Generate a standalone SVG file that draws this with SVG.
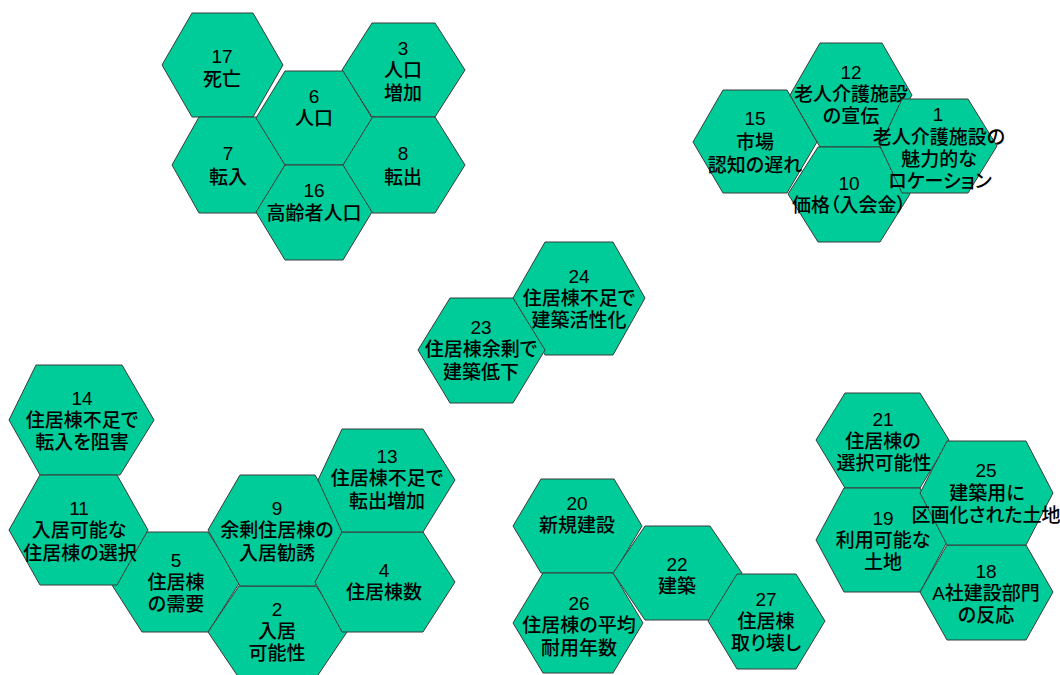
<svg xmlns="http://www.w3.org/2000/svg" width="1060" height="675" viewBox="0 0 1060 675">
<style>
.hex{fill:#00CC99;stroke:#3a3a3a;stroke-width:1}
.t{font-family:"Liberation Sans","Noto Sans CJK JP",sans-serif;font-size:19px;font-weight:500;fill:#000;text-anchor:middle;font-feature-settings:"palt"}
</style>
<rect width="1060" height="675" fill="#fff"/>
<g id="connectors"></g>
<!-- group 1 -->
<g id="n17"><polygon class="hex" points="192,13 253,13 283,65 253,117 192,117 162,65"/>
<text class="t"><tspan x="222" y="63">17</tspan><tspan x="222" y="86">死亡</tspan></text></g>
<g id="n3"><polygon class="hex" points="372,23 435,23 465,70 435,117 372,117 342,70"/>
<text class="t"><tspan x="403" y="55">3</tspan><tspan x="403" y="77">人口</tspan><tspan x="403" y="100">増加</tspan></text></g>
<g id="n7"><polygon class="hex" points="199,117 258,117 285,165 258,213 199,213 172,165"/>
<text class="t"><tspan x="228" y="160">7</tspan><tspan x="228" y="184">転入</tspan></text></g>
<g id="n8"><polygon class="hex" points="372,117 435,117 465,165 435,213 372,213 342,165"/>
<text class="t"><tspan x="403" y="160">8</tspan><tspan x="403" y="184">転出</tspan></text></g>
<g id="n6"><polygon class="hex" points="285,71 343,71 372,118 343,165 285,165 256,118"/>
<text class="t"><tspan x="314" y="103">6</tspan><tspan x="314" y="125">人口</tspan></text></g>
<g id="n16"><polygon class="hex" points="285,165 343,165 372,212 343,260 285,260 256,212"/>
<text class="t"><tspan x="314" y="197">16</tspan><tspan x="314" y="220">高齢者人口</tspan></text></g>
<!-- group 2 -->
<g id="n15"><polygon class="hex" points="723,90 787,90 817,142 787,193 723,193 693,142"/>
<text class="t"><tspan x="755" y="125">15</tspan><tspan x="755" y="149">市場</tspan><tspan x="755" y="172">認知の遅れ</tspan></text></g>
<g id="n12"><polygon class="hex" points="820,43 882,43 912,95 882,147 820,147 790,95"/>
<text class="t"><tspan x="851" y="79">12</tspan><tspan x="851" y="101">老人介護施設</tspan><tspan x="851" y="123">の宣伝</tspan></text></g>
<g id="n10"><polygon class="hex" points="818,147 880,147 910,194 880,242 818,242 788,194"/>
<text class="t"><tspan x="849" y="190">10</tspan><tspan x="849" y="212">価格（入会金）</tspan></text></g>
<g id="n1"><polygon class="hex" points="902,99 968,99 997,146 968,193 902,193 880,146"/>
<text class="t"><tspan x="938" y="121">1</tspan><tspan x="939" y="144">老人介護施設の</tspan><tspan x="939" y="166">魅力的な</tspan><tspan x="940" y="188">ロケーション</tspan></text></g>
<!-- group 3 -->
<g id="n24"><polygon class="hex" points="545,242 613,242 645,298 613,355 545,355 513,298"/>
<text class="t"><tspan x="579" y="283">24</tspan><tspan x="579" y="305">住居棟不足で</tspan><tspan x="579" y="327">建築活性化</tspan></text></g>
<g id="n23"><polygon class="hex" points="450,298 513,298 545,350 513,403 450,403 418,350"/>
<text class="t"><tspan x="481" y="334">23</tspan><tspan x="481" y="356">住居棟余剰で</tspan><tspan x="481" y="379">建築低下</tspan></text></g>
<!-- group 4 -->
<g id="n14"><polygon class="hex" points="36,365 122,365 154,420 120,475 40,475 9,420"/>
<text class="t"><tspan x="82" y="405">14</tspan><tspan x="82" y="427">住居棟不足で</tspan><tspan x="82" y="449">転入を阻害</tspan></text></g>
<g id="n5"><polygon class="hex" points="142,532 208,532 240,582 208,632 142,632 110,582"/>
<text class="t"><tspan x="176" y="567">5</tspan><tspan x="176" y="589">住居棟</tspan><tspan x="176" y="611">の需要</tspan></text></g>
<g id="n11"><polygon class="hex" points="40,475 117,475 148,530 117,585 40,585 9,530"/>
<text class="t"><tspan x="79" y="515">11</tspan><tspan x="79" y="537">入居可能な</tspan><tspan x="80" y="560">住居棟の選択</tspan></text></g>
<g id="n2"><polygon class="hex" points="239,586 316,586 347,632 316,678 239,678 208,632"/>
<text class="t"><tspan x="277" y="616">2</tspan><tspan x="277" y="638">入居</tspan><tspan x="277" y="660">可能性</tspan></text></g>
<g id="n9"><polygon class="hex" points="240,475 315,475 347,530 315,586 240,586 208,530"/>
<text class="t"><tspan x="277" y="515">9</tspan><tspan x="277" y="537">余剰住居棟の</tspan><tspan x="277" y="560">入居勧誘</tspan></text></g>
<g id="n4"><polygon class="hex" points="342,532 423,532 455,582 423,632 342,632 315,582"/>
<text class="t"><tspan x="384" y="577">4</tspan><tspan x="384" y="599">住居棟数</tspan></text></g>
<g id="n13"><polygon class="hex" points="342,429 423,429 455,480 423,532 342,532 318,480"/>
<text class="t"><tspan x="387" y="463">13</tspan><tspan x="387" y="485">住居棟不足で</tspan><tspan x="387" y="508">転出増加</tspan></text></g>
<!-- group 5 -->
<g id="n20"><polygon class="hex" points="541,479 614,479 642,526 614,573 541,573 513,526"/>
<text class="t"><tspan x="577" y="510">20</tspan><tspan x="577" y="532">新規建設</tspan></text></g>
<g id="n26"><polygon class="hex" points="543,573 613,573 643,623 613,673 543,673 513,623"/>
<text class="t"><tspan x="579" y="610">26</tspan><tspan x="579" y="632">住居棟の平均</tspan><tspan x="579" y="655">耐用年数</tspan></text></g>
<g id="n22"><polygon class="hex" points="645,526 710,526 742,573 710,620 645,620 613,573"/>
<text class="t"><tspan x="677" y="571">22</tspan><tspan x="677" y="593">建築</tspan></text></g>
<g id="n27"><polygon class="hex" points="737,574 796,574 825,621 796,669 737,669 708,621"/>
<text class="t"><tspan x="766" y="606">27</tspan><tspan x="766" y="628">住居棟</tspan><tspan x="766" y="650">取り壊し</tspan></text></g>
<!-- group 6 -->
<g id="n21"><polygon class="hex" points="845,393 920,393 949,440 920,488 845,488 816,440"/>
<text class="t"><tspan x="883" y="426">21</tspan><tspan x="883" y="448">住居棟の</tspan><tspan x="884" y="470">選択可能性</tspan></text></g>
<g id="n19"><polygon class="hex" points="844,488 920,488 948,540 920,592 844,592 816,540"/>
<text class="t"><tspan x="883" y="525">19</tspan><tspan x="883" y="547">利用可能な</tspan><tspan x="883" y="569">土地</tspan></text></g>
<g id="n18"><polygon class="hex" points="947,545 1026,545 1053,592 1026,640 947,640 920,592"/>
<text class="t"><tspan x="986" y="578">18</tspan><tspan x="986" y="600">A社建設部門</tspan><tspan x="986" y="622">の反応</tspan></text></g>
<g id="n25"><polygon class="hex" points="947,441 1026,441 1053,493 1026,545 947,545 920,493"/>
<text class="t"><tspan x="986" y="477">25</tspan><tspan x="987" y="500">建築用に</tspan><tspan x="986" y="522">区画化された土地</tspan></text></g>
</svg>
